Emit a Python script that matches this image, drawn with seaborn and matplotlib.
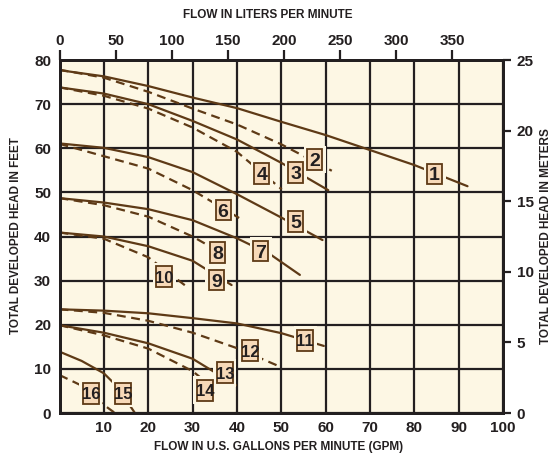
import seaborn as sns
import matplotlib.pyplot as plt
import matplotlib.transforms as mtransforms
from matplotlib.patches import Rectangle
import pandas as pd

# pump curves: flow in GPM, head in feet
c1_gpm = [0, 10, 20, 30, 40, 50, 60, 70, 80, 92]
c1_ft = [77.7, 76.3, 74.1, 71.5, 69.1, 66.0, 63.0, 59.6, 56.2, 51.4]
c2_gpm = [0, 10, 20, 30, 40, 50, 61.4]
c2_ft = [77.8, 76.0, 72.8, 69.0, 65.4, 60.9, 54.9]
c3_gpm = [0, 10, 20, 30, 40, 50, 60.6]
c3_ft = [73.8, 72.4, 70.0, 66.2, 62.0, 56.7, 50.5]
c4_gpm = [0, 10, 20, 30, 40, 50.1]
c4_ft = [73.8, 71.9, 69.0, 64.7, 59.2, 50.7]
c5_gpm = [0, 10, 20, 30, 40, 50, 59.3]
c5_ft = [61.1, 60.1, 58.0, 54.6, 49.6, 44.3, 39.2]
c6_gpm = [0, 10, 20, 30, 40.5]
c6_ft = [61.0, 58.2, 55.4, 50.5, 44.2]
c7_gpm = [0, 10, 20, 30, 40, 47.6, 54.2]
c7_ft = [48.7, 47.7, 46.2, 43.7, 39.6, 35.9, 31.3]
c8_gpm = [0, 10, 20, 30, 37]
c8_ft = [48.7, 47.1, 44.5, 40.0, 36.0]
c9_gpm = [0, 10, 20, 30, 38.8]
c9_ft = [40.9, 40.0, 37.8, 34.5, 29.0]
c10_gpm = [0, 10, 20, 28.6]
c10_ft = [40.9, 39.5, 35.3, 28.7]
c11_gpm = [0, 10, 20, 30, 40, 50, 59.6]
c11_ft = [23.5, 23.2, 22.6, 21.5, 20.3, 18.1, 15.2]
c12_gpm = [0, 10, 20, 30, 40, 49.5]
c12_ft = [23.5, 22.7, 20.9, 18.2, 14.7, 10.6]
c13_gpm = [0, 10, 20, 30, 39.8]
c13_ft = [19.9, 18.2, 15.8, 12.3, 6.3]
c14_gpm = [0, 10, 20, 30, 35.5]
c14_ft = [19.9, 17.6, 14.6, 9.5, 5.0]
c15_gpm = [0, 5, 10, 13, 17]
c15_ft = [13.9, 11.8, 9.0, 6.0, 0]
c16_gpm = [0, 5, 9.5, 12.5]
c16_ft = [8.6, 6.2, 2.2, 0]

# where the numbered tags sit (gpm, ft)
label_gpm = [84.6, 57.6, 53.3, 45.6, 53.3, 36.9, 45.4, 35.7, 35.4, 23.6, 55.4, 43.0, 37.3, 32.8, 14.4, 7.1]
label_ft = [54.2, 57.4, 54.5, 54.3, 43.4, 46.0, 36.7, 36.4, 30.1, 30.9, 16.5, 14.1, 9.1, 5.1, 4.5, 4.5]

gpm_ticks = [0, 10, 20, 30, 40, 50, 60, 70, 80, 90, 100]
ft_ticks = [0, 10, 20, 30, 40, 50, 60, 70, 80]
lpm_ticks = [0, 50, 100, 150, 200, 250, 300, 350]
m_ticks = [0, 5, 10, 15, 20, 25]

CREAM = '#FDF7E4'
BROWN = '#5E3A16'
PEACH = '#F7D9B8'
INK = '#231F20'

curves = [(c1_gpm, c1_ft), (c2_gpm, c2_ft), (c3_gpm, c3_ft), (c4_gpm, c4_ft),
          (c5_gpm, c5_ft), (c6_gpm, c6_ft), (c7_gpm, c7_ft), (c8_gpm, c8_ft),
          (c9_gpm, c9_ft), (c10_gpm, c10_ft), (c11_gpm, c11_ft), (c12_gpm, c12_ft),
          (c13_gpm, c13_ft), (c14_gpm, c14_ft), (c15_gpm, c15_ft), (c16_gpm, c16_ft)]

rows = []
for i, (gx, hy) in enumerate(curves, 1):
    for x, y in zip(gx, hy):
        rows.append({'curve': str(i), 'gpm': x, 'head': y,
                     'kind': 'solid' if i % 2 else 'dashed'})
df = pd.DataFrame(rows)

sns.set_style("white")
plt.rcParams['font.family'] = ['Liberation Sans', 'DejaVu Sans']
plt.rcParams['font.weight'] = 'bold'

fig = plt.figure(figsize=(5.52, 4.53), dpi=100)
ax = fig.add_axes([0.1078, 0.0883, 0.8034, 0.7792])
ax.set_facecolor(CREAM)

sns.lineplot(data=df, x='gpm', y='head', hue='curve', style='kind',
             palette={str(i): BROWN for i in range(1, 17)},
             dashes={'solid': '', 'dashed': (4, 2.5)},
             linewidth=1.6, estimator=None, legend=False, ax=ax, zorder=3)

ax.set_xlim(0, 100)
ax.set_ylim(0, 80)
ax.set_xticks(gpm_ticks)
ax.set_xticklabels([''] + [str(t) for t in gpm_ticks[1:]])
ax.set_yticks(ft_ticks)
ax.grid(True, color=INK, lw=1.6)
ax.set_axisbelow(True)
ax.tick_params(axis='both', length=0, labelsize=11, colors=INK)
ax.tick_params(axis='x', pad=6)
ax.tick_params(axis='y', pad=6)
ax.set_xlabel('')
ax.set_ylabel('')
for s in ax.spines.values():
    s.set_color(INK)
    s.set_linewidth(2)

top = ax.twiny()
top.set_xlim(0, 395)
top.set_xticks(lpm_ticks)
top.tick_params(axis='x', length=7, width=1.6, color=INK, labelsize=11, pad=2, labelcolor=INK)
right = ax.twinx()
right.set_ylim(0, 25)
right.set_yticks(m_ticks)
right.tick_params(axis='y', length=6, width=1.6, color=INK, labelsize=11, pad=4, labelcolor=INK)
for t in (top, right):
    for s in t.spines.values():
        s.set_color(INK)
        s.set_linewidth(2)

# numbered tags on the curves
for n, (lx, ly) in enumerate(zip(label_gpm, label_ft), 1):
    tr = fig.dpi_scale_trans + mtransforms.ScaledTranslation(lx, ly, ax.transData)
    w, h = (0.15, 0.205) if n < 10 else (0.16, 0.21)
    ax.add_artist(Rectangle((-w / 2 - 0.035, -h / 2 - 0.035), w + 0.07, h + 0.07,
                            transform=tr, facecolor=CREAM, edgecolor='none', zorder=4))
    ax.add_artist(Rectangle((-w / 2, -h / 2), w, h, transform=tr,
                            facecolor=PEACH, edgecolor=BROWN, lw=1.3, zorder=5))
    ax.text(lx, ly, str(n), ha='center', va='center_baseline',
            fontsize=14 if n < 10 else 12, fontweight='bold', color=INK,
            family=['Liberation Sans Narrow', 'Liberation Sans'], zorder=6)

fig.text(267.5 / 552, 1 - 15.5 / 453, 'FLOW IN LITERS PER MINUTE',
         ha='center', va='center', fontsize=8.5, color=INK)
fig.text(279 / 552, 1 - 447 / 453, 'FLOW IN U.S. GALLONS PER MINUTE (GPM)',
         ha='center', va='center', fontsize=8.5, color=INK)
fig.text(16.5 / 552, 1 - 236 / 453, 'TOTAL DEVELOPED HEAD IN FEET',
         ha='center', va='center', rotation=90, fontsize=8.5, color=INK)
fig.text(546 / 552, 1 - 236 / 453, 'TOTAL DEVELOPED HEAD IN METERS',
         ha='center', va='center', rotation=90, fontsize=8.5, color=INK)

fig.savefig('out.png', dpi=100)
